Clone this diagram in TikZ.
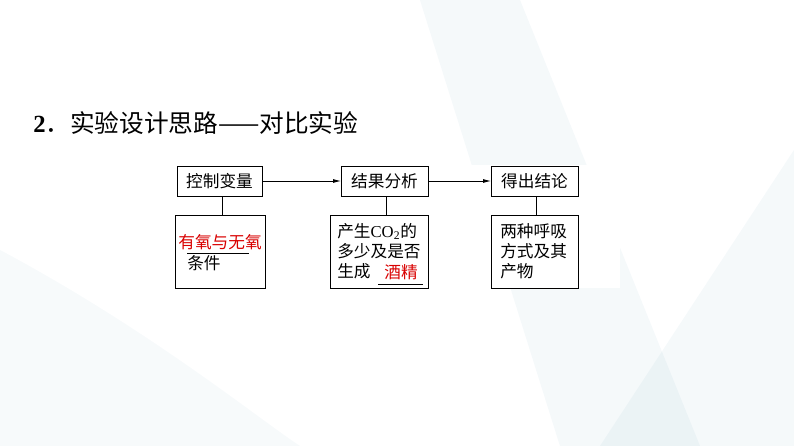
\documentclass[tikz,border=0pt]{standalone}
\usepackage{fontspec}
\setmainfont{Liberation Serif}
\newfontfamily\cjk{Noto Sans CJK SC}
\usetikzlibrary{arrows.meta}
\begin{document}
\begin{tikzpicture}[x=0.75pt,y=-0.75pt,
  txt/.style={font=\cjk\fontsize{12.5}{15}\selectfont,align=left,anchor=north west,inner sep=0pt},
  red/.style={text=red!85!black,font=\cjk\fontsize{12.5}{15}\selectfont}]
\useasboundingbox (0,0) rectangle (794,446);
\fill[white] (0,0) rectangle (794,446);
\fill[cyan!30!teal,opacity=0.05] (420,0) -- (560,446) -- (700,446) -- (520,0) -- cycle;
\fill[cyan!30!teal,opacity=0.05] (794,150) -- (600,446) -- (794,446) -- cycle;
\fill[cyan!30!teal,opacity=0.04] (0,250) .. controls (150,330) and (260,420) .. (300,446) -- (0,446) -- cycle;
\fill[white] (174,165) rectangle (620,288);
\node[anchor=west,inner sep=0pt,font=\fontsize{18.5}{22}\selectfont] (title) at (33,123) {\textbf{2}{\cjk．实验设计思路——对比实验}};
\draw[line width=0.6pt] (177,166) rectangle (262,196);
\draw[line width=0.6pt] (341,166) rectangle (428,196);
\draw[line width=0.6pt] (491,166) rectangle (578,196);
\node[txt,anchor=center] (a) at (219.5,181) {控制变量};
\node[txt,anchor=center] (b) at (384.5,181) {结果分析};
\node[txt,anchor=center] (c) at (534.5,181) {得出结论};
\draw[line width=0.6pt] (175,215) rectangle (265,288);
\draw[line width=0.6pt] (330,215) rectangle (428,288);
\draw[line width=0.6pt] (491,215) rectangle (578,288);
\coordinate (ar) at (262,181); \coordinate (bl) at (341,181);
\coordinate (br) at (428,181); \coordinate (cl) at (491,181);
\draw[-{Latex[length=6pt,width=3pt]},line width=0.6pt] (ar) -- (bl);
\draw[-{Latex[length=6pt,width=3pt]},line width=0.6pt] (br) -- (cl);
\coordinate (a1) at (222,196); \coordinate (a2) at (222,215);
\coordinate (b1) at (386,196); \coordinate (b2) at (386,215);
\coordinate (c1) at (536,196); \coordinate (c2) at (536,215);
\draw[line width=0.6pt] (a1) -- (a2) (b1) -- (b2) (c1) -- (c2);
\node[red,anchor=center,inner sep=0pt] (r1) at (220,242) {有氧与无氧};
\draw[line width=0.5pt] (187,253) -- (249,253);
\node[txt] (t1) at (187,255) {条件};
\node[txt] (t2) at (337,223) {产生{\rmfamily CO\textsubscript{2}}的\\多少及是否\\生成};
\node[red,anchor=center,inner sep=0pt] (r2) at (401,272) {酒精};
\draw[line width=0.5pt] (378,284) -- (423,284);
\node[txt] (t3) at (500,223) {两种呼吸\\方式及其\\产物};
\end{tikzpicture}
\end{document}
